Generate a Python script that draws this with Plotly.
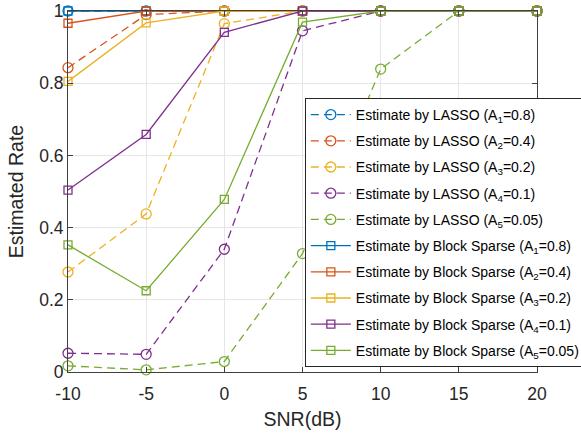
import plotly.graph_objects as go

snr = [-10, -5, 0, 5, 10, 15, 20]

lasso_a1 = [1.0, 1.0, 1.0, 1.0, 1.0, 1.0, 1.0]
lasso_a2 = [0.843, 0.99, 1.0, 1.0, 1.0, 1.0, 1.0]
lasso_a3 = [0.277, 0.438, 0.965, 1.0, 1.0, 1.0, 1.0]
lasso_a4 = [0.052, 0.049, 0.34, 0.945, 1.0, 1.0, 1.0]
lasso_a5 = [0.017, 0.006, 0.029, 0.328, 0.839, 1.0, 1.0]

block_a1 = [1.0, 1.0, 1.0, 1.0, 1.0, 1.0, 1.0]
block_a2 = [0.966, 1.0, 1.0, 1.0, 1.0, 1.0, 1.0]
block_a3 = [0.805, 0.967, 1.0, 1.0, 1.0, 1.0, 1.0]
block_a4 = [0.504, 0.658, 0.941, 1.0, 1.0, 1.0, 1.0]
block_a5 = [0.352, 0.225, 0.478, 0.969, 1.0, 1.0, 1.0]

lasso_names = ["Estimate by LASSO (A<sub>1</sub>=0.8)",
               "Estimate by LASSO (A<sub>2</sub>=0.4)",
               "Estimate by LASSO (A<sub>3</sub>=0.2)",
               "Estimate by LASSO (A<sub>4</sub>=0.1)",
               "Estimate by LASSO (A<sub>5</sub>=0.05)"]
block_names = ["Estimate by Block Sparse (A<sub>1</sub>=0.8)",
               "Estimate by Block Sparse (A<sub>2</sub>=0.4)",
               "Estimate by Block Sparse (A<sub>3</sub>=0.2)",
               "Estimate by Block Sparse (A<sub>4</sub>=0.1)",
               "Estimate by Block Sparse (A<sub>5</sub>=0.05)"]

x_ticks = [-10, -5, 0, 5, 10, 15, 20]
x_ticktext = ["-10", "-5", "0", "5", "10", "15", "20"]
y_ticks = [0, 0.2, 0.4, 0.6, 0.8, 1]
y_ticktext = ["0", "0.2", "0.4", "0.6", "0.8", "1"]

colors = ["#0072BD", "#D95319", "#EDB120", "#7E2F8E", "#77AC30"]

fig = go.Figure()
lasso = [lasso_a1, lasso_a2, lasso_a3, lasso_a4, lasso_a5]
block = [block_a1, block_a2, block_a3, block_a4, block_a5]
for i, ys in enumerate(lasso):
    fig.add_trace(go.Scatter(
        x=snr, y=ys, name=lasso_names[i], mode="lines+markers",
        legendgroup="l%d" % i,
        line=dict(color=colors[i], width=1.3, dash="8px,5px"),
        marker=dict(symbol="circle-open", size=10, color=colors[i], line=dict(width=1.3)),
        cliponaxis=False))
for i, ys in enumerate(block):
    fig.add_trace(go.Scatter(
        x=snr, y=ys, name=block_names[i], mode="lines+markers",
        legendgroup="b%d" % i,
        line=dict(color=colors[i], width=1.3),
        marker=dict(symbol="square-open", size=8, color=colors[i], line=dict(width=1.3)),
        cliponaxis=False))

axis_common = dict(showgrid=True, gridcolor="#e6e6e6", gridwidth=1,
                   showline=True, linecolor="#404040", linewidth=1,
                   mirror="ticks", ticks="inside", ticklen=5, tickcolor="#404040",
                   zeroline=False, automargin=False,
                   tickfont=dict(size=17.5, color="#262626"))

fig.update_layout(
    width=581, height=437,
    margin=dict(l=68, r=44, t=11, b=65, autoexpand=False),
    paper_bgcolor="white", plot_bgcolor="white",
    font=dict(family="Arial, Liberation Sans, sans-serif", color="#262626"),
    showlegend=True,
    legend=dict(x=0.505, y=0.759, xanchor="left", yanchor="top",
                bgcolor="white", bordercolor="#262626", borderwidth=1,
                font=dict(size=14, color="#000000"),
                tracegroupgap=5, itemwidth=40),
    xaxis=dict(range=[-10, 20], tickvals=x_ticks, ticktext=x_ticktext,
               ticklabelstandoff=6,
               title=dict(text="SNR(dB)", font=dict(size=19.5), standoff=9), **axis_common),
    yaxis=dict(range=[0, 1], tickvals=y_ticks, ticktext=y_ticktext,
               title=dict(text="Estimated Rate", font=dict(size=19.5), standoff=10), **axis_common),
)

fig.write_html("out.html", config={"displayModeBar": False},
               post_script="document.body.style.margin='0';")
